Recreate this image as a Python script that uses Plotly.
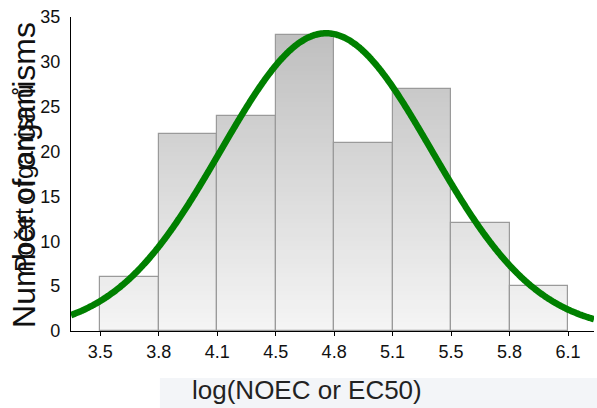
import numpy as np
import plotly.graph_objects as go

# ---- data ----
bin_edges = [3.5, 3.825, 4.15, 4.475, 4.8, 5.125, 5.45, 5.775, 6.1]
tick_labels = ["3.5", "3.8", "4.1", "4.5", "4.8", "5.1", "5.5", "5.8", "6.1"]
counts = [6, 22, 24, 33, 21, 27, 12, 5]
y_ticks = [0, 5, 10, 15, 20, 25, 30, 35]
fit_mean = 4.756
fit_sd = 0.586

edges = np.array(bin_edges)
centers = (edges[:-1] + edges[1:]) / 2
widths = np.diff(edges)
bw = widths[0]
n_total = sum(counts)
cnt = np.array(counts, dtype=float)

x_range = [edges[0] - bw / 2, edges[-1] + bw * 0.444]
y_range = [0, 35]

fig = go.Figure()

# gradient fill for bars (by absolute height)
c_low = np.array([245, 245, 245])
c_high = np.array([188, 188, 188])
step = 0.5
for k in np.arange(0, max(counts), step):
    t = k / 35.0
    c = (c_low + (c_high - c_low) * t).astype(int)
    seg = np.where(cnt > k, cnt - k, 0)
    fig.add_trace(go.Bar(
        x=centers, y=seg, base=[k] * len(centers), width=widths,
        marker=dict(color=f"rgb({c[0]},{c[1]},{c[2]})", line=dict(width=0)),
        hoverinfo="skip", showlegend=False))

# bar outlines
fig.add_trace(go.Bar(
    x=centers, y=cnt, width=widths,
    marker=dict(color="rgba(0,0,0,0)", line=dict(color="#9a9a9a", width=1.2)),
    showlegend=False))

# fitted normal curve
xc = np.linspace(x_range[0], x_range[1], 400)
yc = n_total * bw / (fit_sd * np.sqrt(2 * np.pi)) * np.exp(-0.5 * ((xc - fit_mean) / fit_sd) ** 2)
fig.add_trace(go.Scatter(x=xc, y=yc, mode="lines",
                         line=dict(color="#008000", width=6.5, shape="spline"),
                         showlegend=False))

font_family = "Liberation Sans, Arial, sans-serif"

fig.update_layout(
    width=597, height=408,
    margin=dict(l=71, r=3, t=17, b=77),
    paper_bgcolor="white", plot_bgcolor="white",
    barmode="overlay", bargap=0,
    font=dict(family=font_family, color="#111"),
    xaxis=dict(range=x_range, tickvals=bin_edges, ticktext=tick_labels,
               showline=True, linecolor="black", linewidth=1.2,
               ticks="outside", ticklen=4, tickcolor="black",
               showgrid=False, zeroline=False,
               tickfont=dict(size=18, family=font_family, color="#111")),
    xaxis2=dict(range=x_range, overlaying="x", side="top", anchor="y",
                tickvals=bin_edges, showticklabels=False,
                showline=True, linecolor="black", linewidth=1.2,
                ticks="inside", ticklen=4, tickcolor="black",
                showgrid=False, zeroline=False),
    yaxis=dict(range=y_range, tickvals=y_ticks,
               showline=True, linecolor="black", linewidth=1.2,
               ticks="", ticklabelstandoff=6,
               showgrid=False, zeroline=False,
               tickfont=dict(size=18, family=font_family, color="#111")),
    yaxis2=dict(range=y_range, overlaying="y", side="right", anchor="x",
                tickvals=y_ticks, showticklabels=False,
                showline=True, linecolor="#777", linewidth=1,
                ticks="inside", ticklen=4, tickcolor="black",
                showgrid=False, zeroline=False),
    shapes=[dict(type="rect", xref="paper", yref="paper",
                 x0=0.170, x1=1.01, y0=-0.15, y1=-0.25,
                 fillcolor="#f3f5f8", line=dict(width=0), layer="below")],
    annotations=[
        dict(text="log(NOEC or EC50)", xref="paper", yref="paper",
             x=0.452, y=-0.188, xanchor="center", yanchor="middle",
             showarrow=False,
             font=dict(size=26, family=font_family, color="#222")),
        dict(text="Number of organisms", xref="paper", yref="paper",
             x=-0.0899, y=0.497, xanchor="center", yanchor="middle",
             textangle=-90, showarrow=False,
             font=dict(size=32, family=font_family, color="#111")),
        dict(text="Počet organismů", xref="paper", yref="paper",
             x=-0.0899, y=0.487, xanchor="center", yanchor="middle",
             textangle=-90, showarrow=False,
             font=dict(size=25, family=font_family, color="#111")),
    ],
)

fig.write_html("out.html")
